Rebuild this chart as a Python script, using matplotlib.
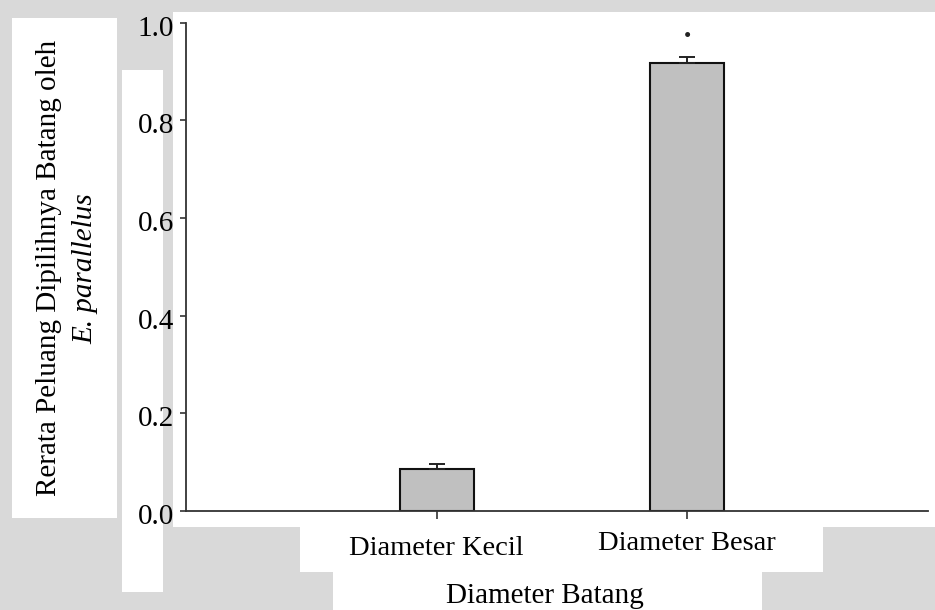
import matplotlib
matplotlib.use("Agg")
import matplotlib.pyplot as plt
from matplotlib.patches import Rectangle
from matplotlib.transforms import ScaledTranslation

plt.rcParams['font.family'] = ['Liberation Serif', 'DejaVu Serif']

categories = ["Diameter Kecil", "Diameter Besar"]
means = [0.085, 0.918]
errors = [0.012, 0.011]
significance = ["", "•"]
y_ticks = [0.0, 0.2, 0.4, 0.6, 0.8, 1.0]
y_tick_labels = ["0.0", "0.2", "0.4", "0.6", "0.8", "1.0"]
x_title = "Diameter Batang"
y_title_1 = "Rerata Peluang Dipilihnya Batang oleh"
y_title_2 = "E. parallelus"

W, H = 935, 610
fig = plt.figure(figsize=(W / 100, H / 100), dpi=100)
fig.patch.set_facecolor('#d9d9d9')

# white background panels (page layout behind the chart), in pixels from top-left
panels = [(173, 12, 935, 527), (12, 18, 117, 518), (122, 70, 163, 592),
          (300, 527, 823, 572), (333, 572, 762, 610)]
for x0, y0, x1, y1 in panels:
    fig.patches.append(Rectangle((x0 / W, 1 - y1 / H), (x1 - x0) / W, (y1 - y0) / H,
                                 transform=fig.transFigure, facecolor='white',
                                 edgecolor='none', zorder=-10))

left, right, top, bottom = 186, 928, 22.5, 511
ax = fig.add_axes([left / W, 1 - bottom / H, (right - left) / W, (bottom - top) / H])
ax.set_facecolor('none')

x = list(range(len(categories)))
ax.bar(x, means, width=0.295, color='#c0c0c0', edgecolor='#111111', linewidth=1.5, zorder=2)
ax.errorbar(x, means, yerr=[[0] * len(errors), errors], fmt='none', ecolor='#222222',
            elinewidth=1.4, capsize=6, capthick=1.4, zorder=3)
for xi, m, e, s in zip(x, means, errors, significance):
    if s:
        ax.text(xi, m + e + 0.04, s, ha='center', va='center', fontsize=15, color='#222222')

ax.set_xlim(-1.0, 1.96)
ax.set_ylim(0, 1.0)
ax.set_yticks(y_ticks)
ax.set_yticklabels(y_tick_labels, fontsize=21)
ax.set_xticks(x)
ax.set_xticklabels(categories, fontsize=20.5)

for side in ['top', 'right']:
    ax.spines[side].set_visible(False)
for side in ['left', 'bottom']:
    ax.spines[side].set_color('#333333')
    ax.spines[side].set_linewidth(1.3)
ax.tick_params(axis='y', direction='out', length=4.5, width=1.2, color='#333333', pad=4, labelcolor='black')
ax.tick_params(axis='x', direction='out', length=5.5, width=1.2, color='#333333', pad=10, labelcolor='black')

# small vertical offsets of tick labels as in the reference
for lab in ax.get_yticklabels():
    lab.set_transform(lab.get_transform() + ScaledTranslation(0, -3 / 100, fig.dpi_scale_trans))
xoffs = [-3, 2]
for lab, dy in zip(ax.get_xticklabels(), xoffs):
    lab.set_transform(lab.get_transform() + ScaledTranslation(0, dy / 100, fig.dpi_scale_trans))

ax.set_xlabel(x_title, fontsize=21)
ax.xaxis.set_label_coords(0.484, -0.188)
ax.xaxis.label.set_va('baseline')

ax.set_ylabel(y_title_1, fontsize=21)
ax.yaxis.set_label_coords(-0.1846, 0.497)
ax.yaxis.label.set_va('center')
ax.text(-0.136, 0.497, y_title_2, transform=ax.transAxes, rotation=90, ha='center',
        va='center', fontsize=21, style='italic')

fig.savefig("out.png", dpi=100, facecolor=fig.get_facecolor())
